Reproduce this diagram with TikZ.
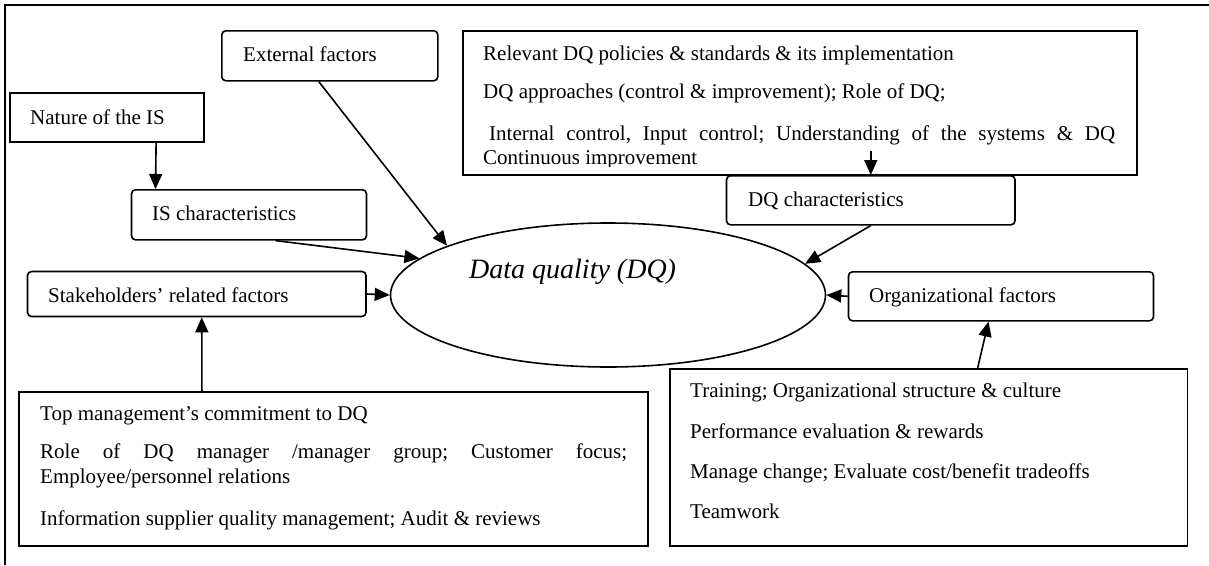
\documentclass[tikz,border=0pt]{standalone}
\usepackage{fontspec}
\setmainfont{Liberation Serif}
\usetikzlibrary{shapes.geometric,arrows.meta}
\frenchspacing

\begin{document}
\begin{tikzpicture}[x=1pt,y=-1pt,
  font=\fontsize{21}{24}\selectfont,
  sqbox/.style={draw,line width=1.6pt,inner sep=0pt,anchor=north west},
  rbox/.style={sqbox,rounded corners=4pt},
  txt/.style={inner sep=0pt,anchor=base west},
  arr/.style={line width=1.6pt,-{Triangle[length=15pt,width=13pt]}},
]
\useasboundingbox (0,0) rectangle (1209,565);

% page frame (top and left edges)
\draw[line width=2.2pt] (4.7,565) -- (4.7,5) -- (1209,5);

% central ellipse
\node[draw,ellipse,line width=1.6pt,minimum width=435pt,minimum height=144pt,inner sep=0pt] (dq) at (608,295) {};
\node[txt,font=\fontsize{28}{32}\selectfont\itshape] (dq-t) at (469,278.5) {Data quality (DQ)};

% single-line factor boxes
\node[rbox,minimum width=216pt,minimum height=50pt] (ext) at (221,30) {};
\node[txt] (ext-t) at (243,61.7) {External factors};

\node[sqbox,minimum width=194pt,minimum height=49pt] (nat) at (9.3,92.3) {};
\node[txt] (nat-t) at (30,124) {Nature of the IS};

\node[rbox,minimum width=235pt,minimum height=50pt] (isc) at (130.7,189) {};
\node[txt] (isc-t) at (152,220.7) {IS characteristics};

\node[rbox,minimum width=338.5pt,minimum height=45pt] (sh) at (26.7,270.7) {};
\node[txt] (sh-t) at (48,302.3) {Stakeholders’ related factors};

\node[rbox,minimum width=288.5pt,minimum height=49pt] (dqc) at (725.7,175) {};
\node[txt] (dqc-t) at (748,206) {DQ characteristics};

\node[rbox,minimum width=305pt,minimum height=49pt] (org) at (847.7,271) {};
\node[txt] (org-t) at (869,302.7) {Organizational factors};

% DQ policies box
\node[sqbox,minimum width=674pt,minimum height=144pt] (pol) at (462,30) {};
\node[txt] (pol-1) at (483,60.6) {Relevant DQ policies \& standards \& its implementation};
\node[txt] (pol-2) at (483,98.9) {DQ approaches (control \& improvement); Role of DQ;};
\node[txt] (pol-3) at (489,140.6) {\makebox[626pt][s]{Internal control, Input control; Understanding of the systems \& DQ}};
\begin{scope}
  \clip (462,140) rectangle (1136,166);
  \node[txt] (pol-4) at (483,164.5) {Continuous improvement};
\end{scope}

% stakeholder items box
\node[sqbox,minimum width=628.7pt,minimum height=154pt] (stk) at (18.3,391) {};
\node[txt] (stk-1) at (40,420.6) {Top management’s commitment to DQ};
\node[txt] (stk-2) at (40,458.9) {\makebox[587pt][s]{Role of DQ manager /manager group; Customer focus;}};
\node[txt] (stk-3) at (40,483.2) {Employee/personnel relations};
\node[txt] (stk-4) at (40,525.6) {Information supplier quality management; Audit \& reviews};

% organizational items box
\node[sqbox,minimum width=517.7pt,minimum height=177pt] (orgi) at (669,368) {};
\node[txt] (orgi-1) at (690,397.2) {Training; Organizational structure \& culture};
\node[txt] (orgi-2) at (690,438.9) {Performance evaluation \& rewards};
\node[txt] (orgi-3) at (690,478.9) {Manage change; Evaluate cost/benefit tradeoffs};
\node[txt] (orgi-4) at (690,518.9) {Teamwork};

% connectors
\draw[arr] ([xshift=49pt]nat.south) -- ([xshift=-93.5pt]isc.north);
\draw[arr] ([xshift=-11pt]ext.south) -- (dq.163);
\draw[arr] ([xshift=26.5pt]isc.south) -- (dq.169.6);
\draw[arr] (sh.east) -- (dq.west);
\draw[arr] (dqc.south) -- (dq.9);
\draw[arr] (org.west) -- (dq.east);
\draw[arr] ([yshift=24pt]dqc.north) -- (dqc.north);
\draw[arr] ([xshift=49pt]orgi.north) -- ([xshift=-12.5pt]org.south);
\draw[arr] ([xshift=-131.5pt]stk.north) -- ([xshift=5pt]sh.south);
\end{tikzpicture}
\end{document}
